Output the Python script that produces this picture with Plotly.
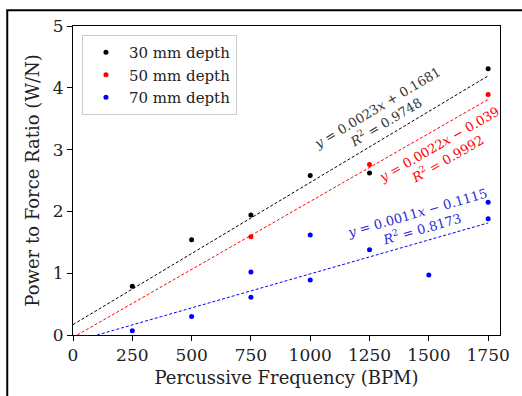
import plotly.graph_objects as go

# Measured power-to-force ratios at each percussive frequency
bpm_30 = [250, 500, 750, 1000, 1250, 1750]
ratio_30 = [0.79, 1.54, 1.94, 2.58, 2.62, 4.31]

bpm_50 = [750, 1250, 1750]
ratio_50 = [1.59, 2.76, 3.89]

bpm_70 = [250, 500, 750, 750, 1000, 1000, 1250, 1500, 1750, 1750]
ratio_70 = [0.07, 0.30, 1.02, 0.61, 0.89, 1.62, 1.38, 0.97, 2.15, 1.88]

# Linear fit coefficients (slope, intercept, R^2)
fit_30 = (0.0023, 0.1681, 0.9748)
fit_50 = (0.0022, -0.039, 0.9992)
fit_70 = (0.0011, -0.1115, 0.8173)

fit_x = [0, 1750]
x_ticks = [0, 250, 500, 750, 1000, 1250, 1500, 1750]
y_ticks = [0, 1, 2, 3, 4, 5]

series = [
    ("30 mm depth", bpm_30, ratio_30, fit_30, "black", "#333333"),
    ("50 mm depth", bpm_50, ratio_50, fit_50, "red", "red"),
    ("70 mm depth", bpm_70, ratio_70, fit_70, "blue", "#2a2ad0"),
]

fig = go.Figure()
for name, xs, ys, fit, color, _ in series:
    fig.add_trace(go.Scatter(
        x=xs, y=ys, mode="markers", name=name,
        marker=dict(color=color, size=5),
    ))
for name, xs, ys, fit, color, _ in series:
    m, b, _r2 = fit
    fig.add_trace(go.Scatter(
        x=fit_x, y=[m * v + b for v in fit_x], mode="lines",
        line=dict(color=color, width=1, dash="3px,2px"),
        showlegend=False, hoverinfo="skip",
    ))


def eq_text(m, b, r2):
    sign = "+" if b >= 0 else "\u2212"
    return (f"<i>y</i> = {m}<i>x</i> {sign} {abs(b):g}<br>"
            f"<i>R</i><sup>2</sup> = {r2}")


label_pos = [(1302, 3.56, -31), (1560, 2.96, -30), (1462, 1.85, -16)]
for (name, xs, ys, fit, color, tcolor), (lx, ly, ang) in zip(series, label_pos):
    fig.add_annotation(
        x=lx, y=ly, xref="x", yref="y", text=eq_text(*fit),
        showarrow=False, textangle=ang,
        font=dict(family="DejaVu Serif", size=13, color=tcolor),
    )

# outer frame of the figure
fig.add_shape(type="rect", xref="paper", yref="paper",
              x0=-0.154, x1=1.2, y0=-0.4, y1=1.051,
              line=dict(color="black", width=2), fillcolor="rgba(0,0,0,0)")

axis_common = dict(
    showline=True, linecolor="black", linewidth=1, mirror=True,
    ticks="outside", ticklen=5, tickcolor="black", showgrid=False,
    zeroline=False, tickfont=dict(family="DejaVu Serif", size=17, color="#222"),
)

fig.update_layout(
    width=522, height=396,
    margin=dict(l=73, r=21, t=26, b=58),
    plot_bgcolor="white", paper_bgcolor="white",
    xaxis=dict(range=[0, 1800], tickvals=x_ticks,
               title=dict(text="Percussive Frequency (BPM)", standoff=6,
                          font=dict(family="DejaVu Serif", size=18, color="#222")),
               **axis_common),
    yaxis=dict(range=[0, 5], tickvals=y_ticks,
               title=dict(text="Power to Force Ratio (W/N)", standoff=8,
                          font=dict(family="DejaVu Serif", size=18, color="#222")),
               **axis_common),
    legend=dict(x=0.021, y=0.971, xanchor="left", yanchor="top",
                bordercolor="#cccccc", borderwidth=1, bgcolor="white",
                font=dict(family="DejaVu Serif", size=15, color="#222"),
                itemwidth=36, tracegroupgap=0),
    showlegend=True,
)

fig.write_html("out.html")
